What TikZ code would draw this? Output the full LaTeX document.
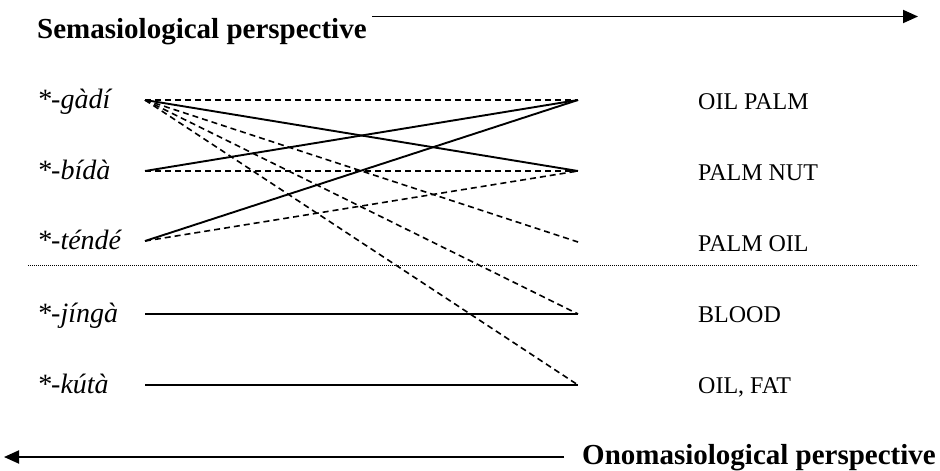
\documentclass[tikz,border=0pt]{standalone}
\usepackage{fontspec}
\setmainfont{Liberation Serif}
\usetikzlibrary{arrows.meta}
\begin{document}
\begin{tikzpicture}[x=1pt,y=-1pt,
  lemma/.style={anchor=base west,inner sep=0pt,font=\fontsize{28}{32}\selectfont\itshape},
  sense/.style={anchor=base west,inner sep=0pt,font=\fontsize{24}{28}\selectfont},
  persp/.style={inner sep=0pt,font=\fontsize{29}{34}\selectfont\bfseries},
  solidlink/.style={line width=1.9pt},
  dashlink/.style={line width=1.6pt,dash pattern=on 6pt off 4pt},
  axisarrow/.style={line width=1.9pt,-{Triangle[length=15pt,width=13pt]}}]
\useasboundingbox (0,0) rectangle (940,471);
% perspective labels and arrows
\node[persp,anchor=base west] (sem) at (37,38) {Semasiological perspective};
\coordinate (semS) at (372,16.5);
\coordinate (semE) at (918,16.5);
\draw[axisarrow] (semS) -- (semE);
\node[persp,anchor=base east] (ono) at (936,464) {Onomasiological perspective};
\coordinate (onoS) at (564,457);
\coordinate (onoE) at (4,457);
\draw[axisarrow] (onoS) -- (onoE);
% lemmas
\node[lemma] (l1) at (37,108) {*-gàdí};
\node[lemma] (l2) at (37,179) {*-bídà};
\node[lemma] (l3) at (37,249) {*-téndé};
\node[lemma] (l4) at (37,322) {*-jíngà};
\node[lemma] (l5) at (37,393) {*-kútà};
% senses
\node[sense] (s1) at (698,109) {OIL PALM};
\node[sense] (s2) at (698,180) {PALM NUT};
\node[sense] (s3) at (698,251) {PALM OIL};
\node[sense] (s4) at (698,322) {BLOOD};
\node[sense] (s5) at (698,393) {OIL, FAT};
% anchor points
\coordinate (a1) at (145,100);
\coordinate (a2) at (145,171);
\coordinate (a3) at (145,241);
\coordinate (a4) at (145,314);
\coordinate (a5) at (145,385);
\coordinate (b1) at (578,100);
\coordinate (b2) at (578,171);
\coordinate (b3) at (578,242);
\coordinate (b4) at (578,314);
\coordinate (b5) at (578,385);
% separator
\coordinate (sepL) at (28,265);
\coordinate (sepR) at (918,265);
\draw[line width=0.9pt,dash pattern=on 0.9pt off 1.1pt] (sepL) -- (sepR);
% links
\draw[dashlink] (a1) -- (b1);
\draw[solidlink] (a1) -- (b2);
\draw[dashlink] (a1) -- (b3);
\draw[dashlink] (a1) -- (b4);
\draw[dashlink] (a1) -- (b5);
\draw[solidlink] (a2) -- (b1);
\draw[dashlink] (a2) -- (b2);
\draw[solidlink] (a3) -- (b1);
\draw[dashlink] (a3) -- (b2);
\draw[solidlink] (a4) -- (b4);
\draw[solidlink] (a5) -- (b5);
\end{tikzpicture}
\end{document}
